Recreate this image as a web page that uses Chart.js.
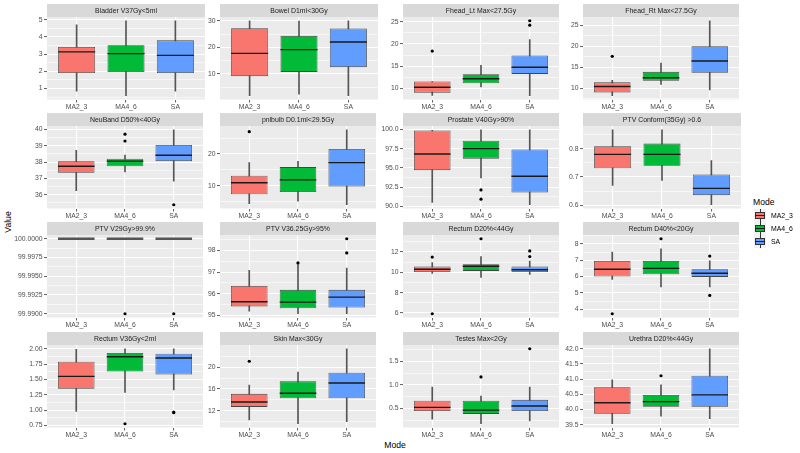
<!DOCTYPE html>
<html>
<head>
<meta charset="utf-8">
<script src="https://cdn.jsdelivr.net/npm/chart.js@4.4.0/dist/chart.umd.min.js"></script>
<style>
  body { margin: 0; width: 800px; height: 453px; position: relative; overflow: hidden; background: #fff;
         font-family: "Liberation Sans", Arial, sans-serif; }
  canvas { position: absolute; }
  .axTitle { position: absolute; font-size: 8.6px; color: #000; text-align: center; line-height: 10px; }
  .key { position: absolute; width: 12px; height: 13px; background: #F2F2F2; }
  .key .wh { position: absolute; left: 5.5px; top: 0; width: 1px; height: 13px; background: #333; }
  .key .bx { position: absolute; left: 1px; top: 3px; width: 10px; height: 7px; box-sizing: border-box; border: 0.7px solid #333; }
  .key .md { position: absolute; left: 1px; top: 6px; width: 10px; height: 1px; background: #1A1A1A; }
  .keyLab { position: absolute; font-size: 6.9px; color: #000; line-height: 8px; }
</style>
</head>
<body>
<div class="axTitle" style="left:-12px; top:217px; width:40px; transform:rotate(-90deg);">Value</div>
<div class="axTitle" style="left:365px; top:440px; width:60px;">Mode</div>
<div class="axTitle" style="left:753px; top:197px; text-align:left;">Mode</div>
<script>
// groups on the x axis of every panel
const modes = ['MA2_3', 'MA4_6', 'SA'];
const modeColors = ['#F8766D', '#00BA38', '#619CFF'];

// one facet per dose constraint
const facets = [
  'Bladder V37Gy<5ml', 'Bowel D1ml<30Gy', 'Fhead_Lt Max<27.5Gy', 'Fhead_Rt Max<27.5Gy',
  'NeuBand D50%<40Gy', 'pnlbulb D0.1ml<29.5Gy', 'Prostate V40Gy>90%', 'PTV Conform(35Gy) >0.6',
  'PTV V29Gy>99.9%', 'PTV V36.25Gy>95%', 'Rectum D20%<44Gy', 'Rectum D40%<20Gy',
  'Rectum V36Gy<2ml', 'Skin Max<30Gy', 'Testes Max<2Gy', 'Urethra D20%<44Gy'
];

// box statistics per facet, in the order of modes
const whiskerLow = [
  [0.84, 0.58, 0.84], [1.7, 2.3, 1.7], [8.5, 10.4, 8.4], [8.2, 10.9, 9.6],
  [36.25, 37.4, 36.83], [4.4, 5.2, 4.1], [90.5, 93.7, 90.2], [0.670, 0.688, 0.602],
  [100, 100, 100], [95.19, 95.07, 95.07], [9.9, 9.5, 9.8], [5.83, 5.37, 5.37],
  [0.98, 1.29, 1.33], [10.3, 9.6, 10.0], [0.27, 0.17, 0.23], [39.53, 39.78, 39.7]
];
const q1 = [
  [1.90, 1.96, 1.90], [9.1, 10.7, 12.5], [9.1, 11.2, 13.3], [9.0, 11.8, 13.7],
  [37.34, 37.75, 38.06], [7.4, 8.1, 9.8], [94.7, 96.2, 91.8], [0.731, 0.740, 0.636],
  [100, 100, 100], [95.41, 95.32, 95.36], [10.04, 10.14, 10.04], [6.0, 6.14, 5.98],
  [1.35, 1.63, 1.58], [12.7, 14.3, 14.3], [0.44, 0.38, 0.44], [39.86, 40.09, 40.09]
];
const medians = [
  [3.13, 3.03, 2.93], [17.7, 19.1, 22.0], [10.3, 12.2, 14.8], [10.4, 12.5, 16.5],
  [37.75, 38.06, 38.42], [11.0, 11.9, 17.3], [96.8, 97.5, 93.9], [0.780, 0.780, 0.660],
  [100, 100, 100], [95.63, 95.61, 95.84], [10.3, 10.6, 10.25], [6.45, 6.5, 6.2],
  [1.55, 1.87, 1.85], [13.6, 15.2, 17.1], [0.52, 0.46, 0.55], [40.22, 40.26, 40.48]
];
const q3 = [
  [3.42, 3.52, 3.80], [27.2, 24.3, 27.1], [11.6, 13.2, 17.4], [11.4, 13.9, 20.0],
  [38.06, 38.21, 39.06], [13.2, 15.9, 21.6], [99.87, 98.54, 97.4], [0.809, 0.818, 0.709],
  [100, 100, 100], [96.36, 96.18, 96.18], [10.57, 10.8, 10.57], [6.96, 6.96, 6.45],
  [1.79, 1.93, 1.92], [15.1, 17.4, 19.0], [0.66, 0.66, 0.68], [40.73, 40.48, 41.11]
];
const whiskerHigh = [
  [4.70, 4.94, 4.94], [30.0, 29.9, 30.0], [11.6, 15.2, 21.0], [11.9, 16.0, 26.1],
  [38.73, 38.43, 39.99], [17.3, 17.7, 27.6], [99.9, 99.96, 99.96], [0.867, 0.867, 0.758],
  [100, 100, 100], [97.08, 97.35, 97.19], [10.96, 11.55, 11.1], [7.49, 7.7, 6.96],
  [1.99, 2.0, 2.0], [16.7, 19.1, 23.4], [0.95, 0.76, 0.95], [40.98, 40.81, 42.0]
];
const outliers = [
  [[], [], []], [[], [], []], [[18.4], [], [24.2, 25.2]], [[17.6], [], []],
  [[], [39.3, 39.72], [35.38]], [[27.0], [], []], [[], [92.13, 90.93], []], [[], [], []],
  [[], [99.99], [99.99]], [[], [97.43], [97.89, 98.55]], [[11.5, 5.93], [13.3], [11.55, 12.1]], [[3.73], [8.31], [7.25, 4.85]],
  [[], [0.78], [0.97, 0.96]], [[21.1], [], []], [[], [1.17], [1.77]], [[], [41.11], []]
];

// labelled y breaks per facet and their decimals
const yTicks = [
  [1, 2, 3, 4, 5], [10, 20, 30], [10, 15, 20, 25], [10, 15, 20, 25],
  [36, 37, 38, 39, 40], [10, 20], [90, 92.5, 95, 97.5, 100], [0.6, 0.7, 0.8],
  [99.99, 99.9925, 99.995, 99.9975, 100], [95, 96, 97, 98], [6, 8, 10, 12], [4, 5, 6, 7, 8],
  [0.75, 1, 1.25, 1.5, 1.75, 2], [12, 16, 20], [0.5, 1, 1.5], [39.5, 40, 40.5, 41, 41.5, 42]
];
const tickDigits = [0, 0, 0, 0, 0, 0, 1, 1, 4, 0, 0, 0, 2, 0, 1, 1];

Chart.defaults.font.family = '"Liberation Sans", Arial, sans-serif';
Chart.defaults.font.size = 6.8;
Chart.defaults.color = '#4D4D4D';

const colLeft = [47, 220, 403, 583];
const rowTop = [4, 113, 222, 332];
const PANEL_W = 158, AXIS_W = 46, STRIP_H = 13, XAXIS_H = 14.5;

// grey panel + facet strip, ggplot style
const panelBg = {
  id: 'panelBg',
  beforeDraw(chart, args, opts) {
    const { ctx, chartArea: a } = chart;
    ctx.save();
    ctx.fillStyle = '#EBEBEB';
    ctx.fillRect(a.left, a.top, a.right - a.left, a.bottom - a.top);
    ctx.fillStyle = '#D9D9D9';
    ctx.fillRect(a.left, a.top - STRIP_H, a.right - a.left, STRIP_H);
    ctx.fillStyle = '#1A1A1A';
    ctx.font = '6.9px "Liberation Sans", Arial, sans-serif';
    ctx.textAlign = 'center';
    ctx.textBaseline = 'middle';
    ctx.fillText(opts.text, (a.left + a.right) / 2, a.top - STRIP_H / 2 + 0.5);
    ctx.restore();
  }
};

facets.forEach((name, f) => {
  const cv = document.createElement('canvas');
  cv.width = AXIS_W + PANEL_W + 2;
  cv.height = 110;
  cv.style.left = (colLeft[f % 4] - AXIS_W) + 'px';
  cv.style.top = rowTop[Math.floor(f / 4)] + 'px';
  document.body.appendChild(cv);

  // axis range like ggplot: data range + 5% each side
  const all = [].concat(whiskerLow[f], whiskerHigh[f], ...outliers[f]);
  const lo = Math.min(...all), hi = Math.max(...all);
  const pad = (hi - lo) * 0.05;
  const ymin = lo - pad, ymax = hi + pad;

  // major breaks plus minor breaks halfway between
  const major = yTicks[f];
  const half = (major[1] - major[0]) / 2;
  const yt = [];
  for (let k = -1; k <= (major.length - 1) * 2 + 1; k++) {
    const v = major[0] + k * half;
    if (v >= ymin - 1e-9 && v <= ymax + 1e-9) yt.push({ value: v, mnr: k % 2 !== 0 });
  }

  const outPts = [];
  outliers[f].forEach((list, i) => list.forEach(v => outPts.push({ x: i + 1, y: v })));

  // a box with no height (all values equal) shows as a thick grey bar
  const flat = q1[f].map((v, i) => v === q3[f][i]);

  new Chart(cv, {
    type: 'bar',
    data: {
      datasets: [
        { // outliers
          type: 'scatter',
          data: outPts,
          pointRadius: 1.6,
          pointBackgroundColor: '#000',
          pointBorderWidth: 0,
          order: 0
        },
        { // medians
          type: 'scatter',
          data: medians[f].map((v, i) => ({ x: i + 1, y: v })),
          pointStyle: 'line',
          pointRadius: c => c.chart.scales.x.getPixelForValue(1.375) - c.chart.scales.x.getPixelForValue(1),
          pointBorderColor: c => (flat[c.dataIndex] ? '#555' : '#1A1A1A'),
          pointBorderWidth: c => (flat[c.dataIndex] ? 2.6 : 1.4),
          order: 1
        },
        { // boxes
          data: q1[f].map((v, i) => ({ x: i + 1, y: [v, q3[f][i]] })),
          backgroundColor: modeColors,
          borderColor: '#444',
          borderWidth: 0.8,
          borderSkipped: false,
          barPercentage: 0.75,
          categoryPercentage: 1,
          grouped: false,
          order: 2
        },
        { // whiskers
          data: whiskerLow[f].map((v, i) => ({ x: i + 1, y: [v, whiskerHigh[f][i]] })),
          backgroundColor: '#555',
          barThickness: 1,
          grouped: false,
          order: 3
        }
      ]
    },
    options: {
      responsive: false,
      animation: false,
      events: [],
      layout: { padding: { top: STRIP_H, right: 2, left: 0, bottom: 0 } },
      plugins: {
        legend: { display: false },
        tooltip: { enabled: false },
        panelBg: { text: name }
      },
      scales: {
        x: {
          type: 'linear',
          min: 0.4,
          max: 3.6,
          offset: false,
          afterBuildTicks: s => { s.ticks = modes.map((m, i) => ({ value: i + 1 })); },
          afterFit: s => { s.height = XAXIS_H; },
          border: { display: false },
          grid: { offset: false, color: '#FFFFFF', lineWidth: 1.1, tickColor: '#333333', tickLength: 3, tickWidth: 0.8 },
          ticks: { autoSkip: false, maxRotation: 0, padding: 1, callback: v => modes[Math.round(v) - 1] }
        },
        y: {
          type: 'linear',
          min: ymin,
          max: ymax,
          beginAtZero: false,
          afterBuildTicks: s => { s.ticks = yt.map(t => ({ value: t.value, mnr: t.mnr })); },
          afterFit: s => { s.width = AXIS_W; },
          border: { display: false },
          grid: {
            color: '#FFFFFF',
            lineWidth: c => (c.tick && c.tick.mnr ? 0.55 : 1.1),
            tickColor: c => (c.tick && c.tick.mnr ? 'rgba(0,0,0,0)' : '#333333'),
            tickLength: 3,
            tickWidth: 0.8
          },
          ticks: {
            autoSkip: false,
            padding: 1.5,
            callback: (v, i, ticks) => (ticks[i].mnr ? '' : v.toFixed(tickDigits[f]))
          }
        }
      }
    },
    plugins: [panelBg]
  });
});

// legend keys
modes.forEach((m, i) => {
  const top = 209 + i * 13;
  const key = document.createElement('div');
  key.className = 'key';
  key.style.left = '754px';
  key.style.top = top + 'px';
  key.innerHTML = '<div class="wh"></div><div class="bx" style="background:' + modeColors[i] + '"></div><div class="md"></div>';
  document.body.appendChild(key);
  const lab = document.createElement('div');
  lab.className = 'keyLab';
  lab.style.left = '771px';
  lab.style.top = (top + 2.5) + 'px';
  lab.textContent = m;
  document.body.appendChild(lab);
});
</script>
</body>
</html>
